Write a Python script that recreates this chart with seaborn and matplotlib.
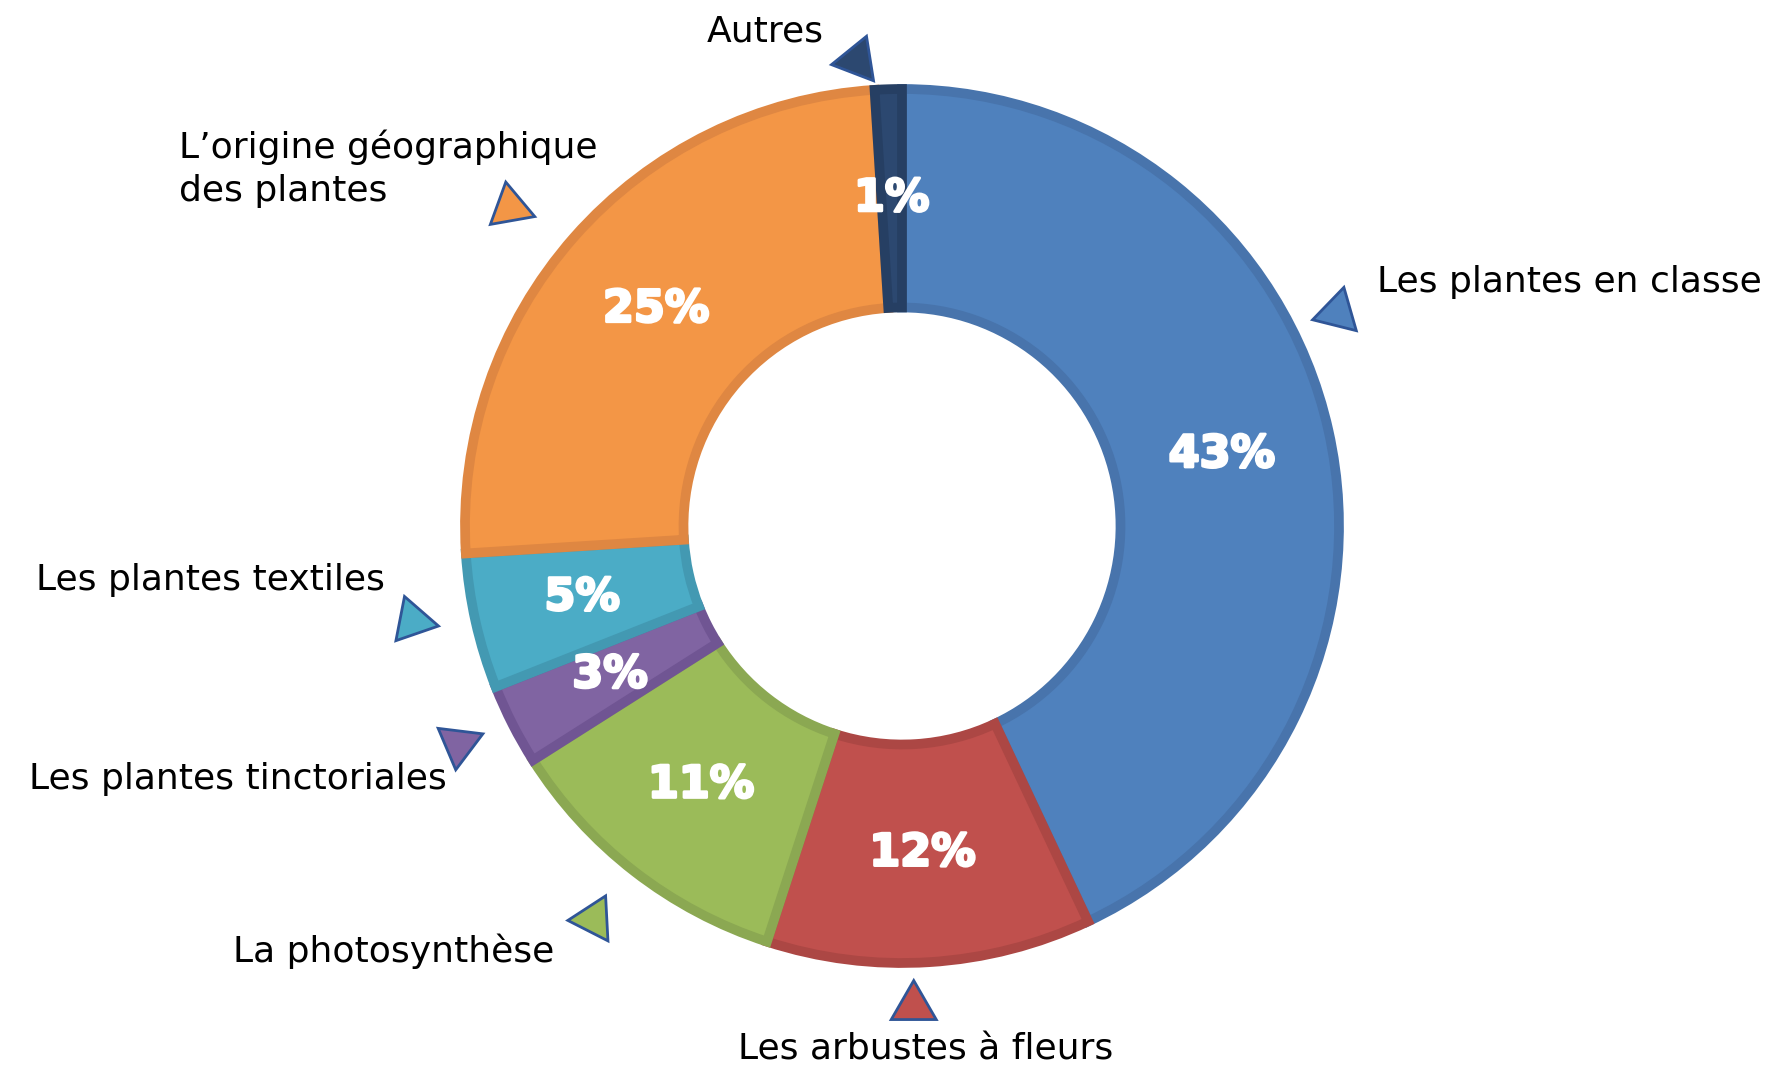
import numpy as np
import matplotlib
matplotlib.use("Agg")
import matplotlib.pyplot as plt
import matplotlib.patheffects as pe
from matplotlib.patches import RegularPolygon
import seaborn as sns

# data
labels = ["Les plantes en classe", "Les arbustes à fleurs", "La photosynthèse",
          "Les plantes tinctoriales", "Les plantes textiles",
          "L’origine géographique\ndes plantes", "Autres"]
values = [43, 12, 11, 3, 5, 25, 1]
colors = ["#4F81BD", "#C0504D", "#9BBB59", "#8064A2", "#4BACC6", "#F39646", "#2C4870"]
edges = ["#4874AC", "#AC4744", "#8BA852", "#705593", "#4399B2", "#DF8742", "#263F63"]

# layout (image pixels, y down): label anchor, alignment, triangle direction
label_pos = [(1377, 282), (926, 1050), (554, 951), (447, 779), (385, 580), (179, 169), (824, 31)]
label_ha = ["left", "center", "right", "right", "right", "left", "right"]
tri_nudge = [13.5, -2.2, -0.3, -0.8, -1.6, 2.3, 3.7]
tri_rad = [1.11, 1.10, 1.143, 1.13, 1.14, 1.155, 1.07]
tri_dir = [76, 90, 183, -97, -11, 100, -51]

W, H = 1780, 1074
cx, cy, R = 902, H - 526, 437

sns.set_theme(style="white")
plt.rcParams["font.family"] = ["DejaVu Sans"]

fig = plt.figure(figsize=(W / 100, H / 100), dpi=100)
ax = fig.add_axes([0, 0, 1, 1])

wedges, _, pcts = ax.pie(
    values, colors=colors, startangle=90, counterclock=False,
    radius=R, center=(cx, cy),
    autopct="%d%%", pctdistance=0.75,
    wedgeprops=dict(width=R * 0.5, linewidth=7),
    textprops=dict(color="white", fontsize=32, fontweight="bold"),
)
for w, ec in zip(wedges, edges):
    w.set_edgecolor(ec)
    w.set_joinstyle("miter")
for t in pcts:
    t.set_path_effects([pe.withStroke(linewidth=2, foreground="white")])

for i, w in enumerate(wedges):
    mid = np.radians((w.theta1 + w.theta2) / 2 + tri_nudge[i])
    tx = cx + R * tri_rad[i] * np.cos(mid)
    ty = cy + R * tri_rad[i] * np.sin(mid)
    ax.add_patch(RegularPolygon((tx, ty), 3, radius=26,
                                orientation=np.radians(tri_dir[i] - 90),
                                facecolor=colors[i], edgecolor="#2F5597", linewidth=2))
    x, y = label_pos[i]
    ax.text(x, H - y, labels[i], ha=label_ha[i], va="center", fontsize=26,
            color="black", linespacing=1.35)

ax.set_xlim(0, W)
ax.set_ylim(0, H)
ax.set_aspect("equal")
ax.axis("off")

fig.savefig("out.png", dpi=100, facecolor="white")
